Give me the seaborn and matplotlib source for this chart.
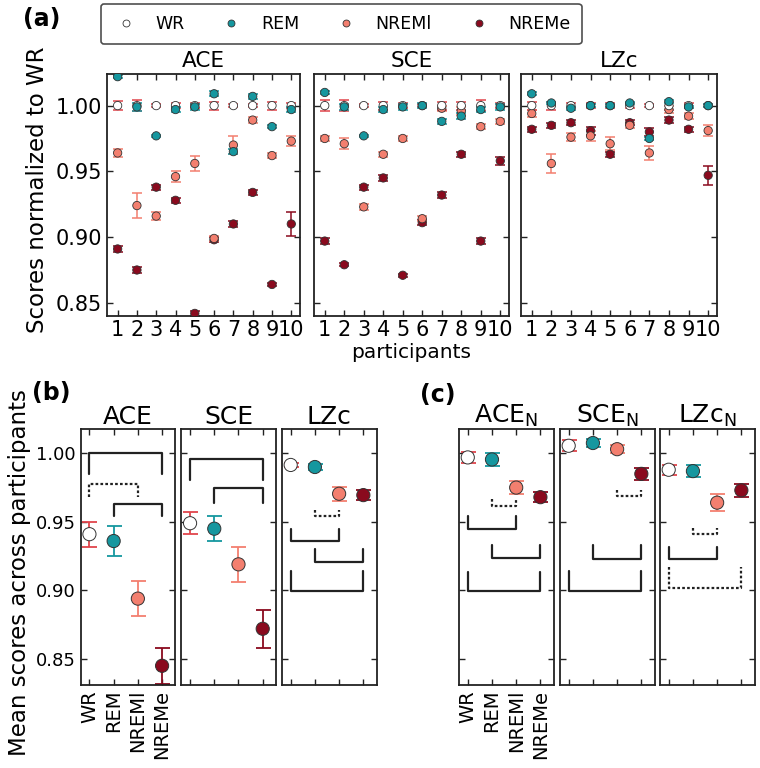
"""Sleep-state complexity scores: per-participant (a) and group means (b, c)."""

import matplotlib
matplotlib.use("Agg")
import matplotlib.pyplot as plt
from matplotlib.lines import Line2D
import pandas as pd
import seaborn as sns

# ---------------------------------------------------------------- data
states = ["WR", "REM", "NREMl", "NREMe"]
draw_order = ["NREMe", "NREMl", "WR", "REM"]
participants = [1, 2, 3, 4, 5, 6, 7, 8, 9, 10]
metrics = ["ACE", "SCE", "LZc"]

# (a) scores normalized to WR, one list per state and metric
ace_wr = [1.000, 1.000, 1.000, 1.000, 1.000, 1.000, 1.000, 1.000, 1.000, 1.000]
ace_rem = [1.022, 0.999, 0.977, 0.997, 0.999, 1.009, 0.965, 1.007, 0.984, 0.997]
ace_nreml = [0.964, 0.924, 0.916, 0.946, 0.956, 0.899, 0.970, 0.989, 0.962, 0.973]
ace_nreme = [0.891, 0.875, 0.938, 0.928, 0.842, 0.898, 0.910, 0.934, 0.864, 0.910]
ace_wr_err = [0.0035, 0.004, 0.001, 0.002, 0.002, 0.003, 0.001, 0.001, 0.003, 0.002]
ace_rem_err = [0.001, 0.003, 0.001, 0.002, 0.002, 0.002, 0.002, 0.002, 0.001, 0.002]
ace_nreml_err = [0.003, 0.0095, 0.003, 0.004, 0.006, 0.002, 0.007, 0.002, 0.002, 0.004]
ace_nreme_err = [0.002, 0.002, 0.002, 0.002, 0.002, 0.002, 0.002, 0.002, 0.001, 0.009]

sce_wr = [1.000, 1.000, 1.000, 1.000, 1.000, 1.000, 1.000, 1.000, 1.000, 1.000]
sce_rem = [1.010, 0.999, 0.977, 0.997, 0.999, 1.000, 0.988, 0.992, 0.997, 0.999]
sce_nreml = [0.975, 0.971, 0.923, 0.963, 0.975, 0.914, 0.998, 0.996, 0.984, 0.988]
sce_nreme = [0.897, 0.879, 0.938, 0.945, 0.871, 0.911, 0.932, 0.963, 0.897, 0.958]
sce_wr_err = [0.004, 0.004, 0.001, 0.003, 0.002, 0.001, 0.003, 0.003, 0.004, 0.002]
sce_rem_err = [0.001, 0.002, 0.001, 0.002, 0.002, 0.002, 0.002, 0.002, 0.002, 0.002]
sce_nreml_err = [0.002, 0.004, 0.002, 0.002, 0.002, 0.002, 0.002, 0.003, 0.002, 0.002]
sce_nreme_err = [0.002, 0.001, 0.002, 0.002, 0.001, 0.002, 0.002, 0.002, 0.002, 0.003]

lzc_wr = [1.000, 1.000, 1.000, 1.000, 1.000, 1.000, 1.000, 1.000, 1.000, 1.000]
lzc_rem = [1.009, 1.002, 0.998, 1.000, 1.000, 1.002, 0.975, 1.003, 0.999, 1.000]
lzc_nreml = [0.994, 0.956, 0.976, 0.977, 0.971, 0.985, 0.964, 0.997, 0.992, 0.981]
lzc_nreme = [0.982, 0.985, 0.987, 0.981, 0.963, 0.987, 0.980, 0.989, 0.982, 0.947]
lzc_wr_err = [0.003, 0.003, 0.002, 0.002, 0.002, 0.002, 0.001, 0.003, 0.002, 0.001]
lzc_rem_err = [0.001, 0.001, 0.001, 0.001, 0.001, 0.001, 0.001, 0.001, 0.001, 0.001]
lzc_nreml_err = [0.003, 0.007, 0.003, 0.004, 0.005, 0.002, 0.005, 0.003, 0.002, 0.004]
lzc_nreme_err = [0.002, 0.002, 0.002, 0.003, 0.002, 0.002, 0.003, 0.002, 0.002, 0.007]

# (b) mean scores across participants (WR, REM, NREMl, NREMe)
mean_ace = [0.941, 0.936, 0.894, 0.845]
mean_sce = [0.949, 0.945, 0.919, 0.872]
mean_lzc = [0.9915, 0.990, 0.9705, 0.9695]
mean_ace_err = [0.009, 0.011, 0.013, 0.013]
mean_sce_err = [0.008, 0.009, 0.013, 0.014]
mean_lzc_err = [0.0015, 0.002, 0.005, 0.0035]

# (c) normalized measures
norm_titles = ["ACE$_\\mathregular{N}$", "SCE$_\\mathregular{N}$", "LZc$_\\mathregular{N}$"]
mean_acen = [0.997, 0.9955, 0.975, 0.968]
mean_scen = [1.0055, 1.0075, 1.003, 0.985]
mean_lzcn = [0.988, 0.987, 0.964, 0.973]
mean_acen_err = [0.004, 0.005, 0.0047, 0.0035]
mean_scen_err = [0.004, 0.003, 0.003, 0.0045]
mean_lzcn_err = [0.0037, 0.0044, 0.006, 0.0046]

# significance brackets: (state i, state j, y of bar, y of leg ends, dotted)
brackets_b = {
    "ACE": [(0, 3, 1.000, 0.985, False), (0, 2, 0.9775, 0.968, True),
            (1, 3, 0.963, 0.954, False)],
    "SCE": [(0, 3, 0.9955, 0.9805, False), (1, 3, 0.9745, 0.964, False)],
    "LZc": [(1, 2, 0.9542, 0.9586, True), (0, 2, 0.9357, 0.9447, False),
            (1, 3, 0.9209, 0.930, False), (0, 3, 0.8997, 0.9143, False)],
}
brackets_c = {
    "ACE": [(1, 2, 0.9615, 0.9664, True), (0, 2, 0.9447, 0.9542, False),
            (1, 3, 0.9235, 0.9333, False), (0, 3, 0.8994, 0.9136, False)],
    "SCE": [(2, 3, 0.9686, 0.9732, True), (1, 3, 0.9228, 0.933, False),
            (0, 3, 0.8997, 0.9143, False)],
    "LZc": [(1, 2, 0.9413, 0.9457, True), (0, 2, 0.9226, 0.9318, False),
            (0, 3, 0.9019, 0.9168, True)],
}

palette = {"WR": "#ffffff", "REM": "#15979f", "NREMl": "#f37f6f", "NREMe": "#8a0a1e"}
err_red = "#e0454c"

# ---------------------------------------------------------------- tables
per_part = {
    "ACE": {"WR": (ace_wr, ace_wr_err), "REM": (ace_rem, ace_rem_err),
            "NREMl": (ace_nreml, ace_nreml_err), "NREMe": (ace_nreme, ace_nreme_err)},
    "SCE": {"WR": (sce_wr, sce_wr_err), "REM": (sce_rem, sce_rem_err),
            "NREMl": (sce_nreml, sce_nreml_err), "NREMe": (sce_nreme, sce_nreme_err)},
    "LZc": {"WR": (lzc_wr, lzc_wr_err), "REM": (lzc_rem, lzc_rem_err),
            "NREMl": (lzc_nreml, lzc_nreml_err), "NREMe": (lzc_nreme, lzc_nreme_err)},
}
rows = []
for m in metrics:
    for s in draw_order:
        vals, errs = per_part[m][s]
        for p, v, e in zip(participants, vals, errs):
            rows.append({"metric": m, "state": s, "participant": p, "value": v, "err": e})
df_a = pd.DataFrame(rows)

means_b = {"ACE": (mean_ace, mean_ace_err), "SCE": (mean_sce, mean_sce_err),
           "LZc": (mean_lzc, mean_lzc_err)}
means_c = {"ACE": (mean_acen, mean_acen_err), "SCE": (mean_scen, mean_scen_err),
           "LZc": (mean_lzcn, mean_lzcn_err)}

# ---------------------------------------------------------------- style
sns.set_style("ticks")
plt.rcParams.update({
    "font.family": ["DejaVu Sans"],
    "text.color": "black", "axes.labelcolor": "black",
    "xtick.color": "#222222", "ytick.color": "#222222",
    "xtick.labelcolor": "black", "ytick.labelcolor": "black",
    "xtick.direction": "in", "ytick.direction": "in",
    "xtick.top": True, "ytick.right": True,
    "xtick.bottom": True, "ytick.left": True,
    "xtick.major.size": 4, "ytick.major.size": 4,
    "xtick.major.width": 1.0, "ytick.major.width": 1.0,
    "axes.edgecolor": "#222222", "axes.linewidth": 1.3,
})

fig = plt.figure(figsize=(7.6, 7.68), dpi=100)


def draw_errors(ax, x, y, err, state, capsize, lw):
    """Vertical bar in the marker colour, caps in red."""
    line_col = err_red if state == "WR" else palette[state]
    _, caps, bars = ax.errorbar(x, y, yerr=err, fmt="none", ecolor=line_col,
                                elinewidth=lw, capsize=capsize, capthick=lw, zorder=2)
    for c in caps:
        c.set_color(err_red)


# ---------------------------------------------------------------- (a)
a_left = [0.1408, 0.4132, 0.6855]
a_width = [0.2539, 0.2566, 0.2579]
for k, m in enumerate(metrics):
    ax = fig.add_axes([a_left[k], 0.5885, a_width[k], 0.3151])
    sub = df_a[df_a.metric == m]
    for s in draw_order:
        ss = sub[sub.state == s]
        draw_errors(ax, ss.participant, ss.value, ss.err, s, 3.6, 1.1)
    sns.scatterplot(data=sub, x="participant", y="value", hue="state",
                    palette=palette, s=36, edgecolor="#333333", linewidth=0.6,
                    legend=False, ax=ax, zorder=3)
    ax.set_xlim(0.45, 10.45)
    ax.set_ylim(0.84, 1.024)
    ax.set_xticks(participants)
    ax.set_xticklabels([str(p) for p in participants], fontsize=15)
    ax.set_yticks([0.85, 0.90, 0.95, 1.00])
    if k == 0:
        ax.set_yticklabels(["0.85", "0.90", "0.95", "1.00"], fontsize=15)
    else:
        ax.set_yticklabels([])
    ax.tick_params(axis="x", pad=3)
    ax.set_xlabel("participants" if k == 1 else "", fontsize=14.5, labelpad=2)
    ax.set_ylabel("")
    ax.set_title(m, fontsize=15.5, pad=5)


# ---------------------------------------------------------------- (b) and (c)
def mean_panel(left, title, vals, errs, brackets, first):
    ax = fig.add_axes([left, 0.1081, 0.1246, 0.3329])
    pos = [0, 1, 2, 3]
    for i in [3, 2, 0, 1]:
        draw_errors(ax, [pos[i]], [vals[i]], [errs[i]], states[i], 5.4, 1.3)
    d = pd.DataFrame({"pos": pos, "value": vals, "state": states})
    d = d.iloc[[3, 2, 0, 1]]
    sns.scatterplot(data=d, x="pos", y="value", hue="state", palette=palette,
                    s=90, edgecolor="#333333", linewidth=0.7, legend=False,
                    ax=ax, zorder=3)
    for i, j, ybar, yleg, dotted in brackets:
        ax.plot([pos[i], pos[i], pos[j], pos[j]], [yleg, ybar, ybar, yleg],
                color="#222222", lw=1.6, ls=(0, (1.2, 1.0)) if dotted else "-",
                zorder=1)
    ax.set_xlim(-0.36, 3.55)
    ax.set_ylim(0.831, 1.0175)
    ax.set_xticks(pos)
    ax.set_yticks([0.85, 0.90, 0.95, 1.00])
    if first:
        ax.set_xticklabels(states, rotation=90, fontsize=14)
    else:
        ax.set_xticklabels([])
    ax.set_yticklabels([])
    ax.set_xlabel("")
    ax.set_ylabel("")
    ax.set_title(title, fontsize=18, pad=3)
    return ax


b_left = [0.1062, 0.2386, 0.3710]
c_left = [0.6040, 0.7368, 0.8684]
for k, m in enumerate(metrics):
    ax = mean_panel(b_left[k], m, *means_b[m], brackets_b[m], k == 0)
    if k == 0:
        ax.set_yticklabels(["0.85", "0.90", "0.95", "1.00"], fontsize=13)
    mean_panel(c_left[k], norm_titles[k], *means_c[m], brackets_c[m], k == 0)

# ---------------------------------------------------------------- labels, legend
fig.text(0.049, 0.753, "Scores normalized to WR", rotation=90, fontsize=16.5,
         ha="center", va="center")
fig.text(0.026, 0.255, "Mean scores across participants", rotation=90,
         fontsize=16.5, ha="center", va="center")
fig.text(0.030, 0.975, "(a)", fontsize=17, fontweight="bold", va="center")
fig.text(0.042, 0.488, "(b)", fontsize=17, fontweight="bold", va="center")
fig.text(0.553, 0.486, "(c)", fontsize=17, fontweight="bold", va="center")

handles = [Line2D([], [], ls="none", marker="o", markersize=5,
                  markerfacecolor=palette[s], markeredgecolor="#333333",
                  markeredgewidth=0.6) for s in states]
leg = fig.legend(handles, states, loc="center", bbox_to_anchor=(0.449, 0.969),
                 ncol=4, fontsize=12.5, frameon=True, fancybox=True,
                 handlelength=1.6, handletextpad=0.9, columnspacing=1.9,
                 borderpad=0.65, borderaxespad=0)
leg.get_frame().set_edgecolor("#222222")
leg.get_frame().set_linewidth(1.2)

fig.savefig("out.png", dpi=100, facecolor="white")
